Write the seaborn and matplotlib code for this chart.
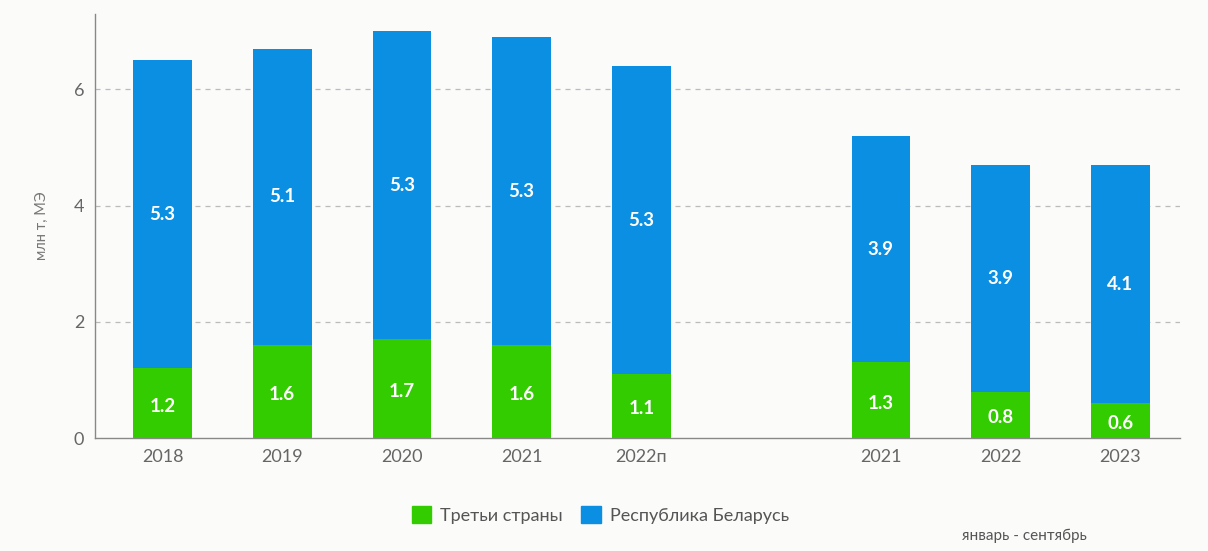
import numpy as np
import pandas as pd
import seaborn as sns
import matplotlib.pyplot as plt

# annual data and January-September data
annual_labels = ["2018", "2019", "2020", "2021", "2022п"]
annual_third = [1.2, 1.6, 1.7, 1.6, 1.1]
annual_belarus = [5.3, 5.1, 5.3, 5.3, 5.3]

ytd_labels = ["2021", "2022", "2023"]
ytd_third = [1.3, 0.8, 0.6]
ytd_belarus = [3.9, 3.9, 4.1]

GREEN = "#33cc00"
BLUE = "#0a8fe2"
BG = "#fbfbfa"

sns.set_theme(style="white")
plt.rcParams["font.family"] = ["Lato", "DejaVu Sans"]

# unique keys, with an empty slot between the two groups
keys = annual_labels + ["gap"] + [f"{y} 9m" for y in ytd_labels]
tick_labels = annual_labels + [""] + ytd_labels
third = annual_third + [np.nan] + ytd_third
belarus = annual_belarus + [np.nan] + ytd_belarus

df = pd.DataFrame({"key": keys, "third": third, "belarus": belarus})
df["total"] = df["third"] + df["belarus"]

fig, ax = plt.subplots(figsize=(12.08, 5.51), dpi=100)
fig.patch.set_facecolor(BG)
ax.set_facecolor(BG)

sns.barplot(data=df, x="key", y="total", order=keys, color=BLUE, width=0.49,
            saturation=1, linewidth=0, ax=ax, zorder=3)
sns.barplot(data=df, x="key", y="third", order=keys, color=GREEN, width=0.49,
            saturation=1, linewidth=0, ax=ax, zorder=4)

for i, row in df.iterrows():
    if np.isnan(row["third"]):
        continue
    ax.text(i, row["third"] / 2 - 0.05, f"{row['third']:.1f}", ha="center", va="center",
            color="white", fontsize=13.5, fontweight="bold", zorder=5)
    ax.text(i, row["third"] + row["belarus"] / 2, f"{row['belarus']:.1f}", ha="center",
            va="center", color="white", fontsize=13.5, fontweight="bold", zorder=5)

ax.set_xlim(-0.56, 8.5)
ax.set_ylim(0, 7.3)
ax.set_yticks([0, 2, 4, 6])
ax.set_xticks(range(len(keys)))
ax.set_xticklabels(tick_labels)
ax.tick_params(axis="both", length=0, labelsize=13, colors="#666666", pad=8)
ax.set_xlabel("")
ax.set_ylabel("млн т, МЭ", fontsize=10.5, color="#777777", labelpad=18)

for y in [2, 4, 6]:
    ax.axhline(y, color="#bbbbbb", linestyle=(0, (4, 4)), linewidth=0.9, zorder=1)

for side in ["top", "right"]:
    ax.spines[side].set_visible(False)
ax.spines["left"].set_color("#888888")
ax.spines["bottom"].set_color("#888888")
ax.spines["left"].set_linewidth(1)
ax.spines["bottom"].set_linewidth(1)

handles = [plt.Rectangle((0, 0), 1, 1, color=GREEN), plt.Rectangle((0, 0), 1, 1, color=BLUE)]
fig.legend(handles, ["Третьи страны", "Республика Беларусь"], loc="center",
           bbox_to_anchor=(0.497, 0.066), ncol=2, frameon=False, fontsize=13,
           handlelength=1.1, handleheight=1.1, handletextpad=0.5, columnspacing=1.0,
           labelcolor="#555555")
fig.text(0.848, 0.027, "январь - сентябрь", ha="center", va="center", fontsize=11,
         color="#555555")

fig.subplots_adjust(left=0.079, right=0.977, top=0.975, bottom=0.205)
fig.savefig("out.png", dpi=100, facecolor=BG)
